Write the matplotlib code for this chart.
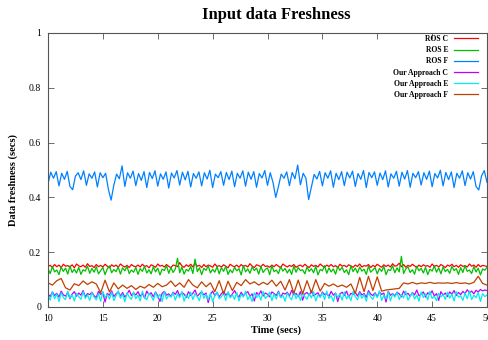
import numpy as np
import matplotlib
matplotlib.use("Agg")
import matplotlib.pyplot as plt

plt.rcParams["font.family"] = ["Liberation Serif", "DejaVu Serif"]

# values, in milliseconds
ros_c = [148,152,145,155,147,153,144,156,149,151,146,154,143,157,150,147,153,145,158,148,
         151,144,155,147,152,146,156,149,143,154,148,153,145,157,150,146,152,144,155,149,
         147,153,146,156,148,151,143,154,150,145,157,149,152,146,155,148,144,153,151,147,
         162,150,145,154,148,156,146,160,149,152,144,155,147,153,150,145,157,148,151,146,
         154,149,143,156,150,147,153,145,155,148,152,146,158,149,144,154,151,147,156,148,
         150,145,153,147,155,149,143,157,151,146,152,148,155,145,150,153,147,156,149,144,
         154,148,152,146,157,150,145,153,148,155,147,151,144,156,149,152,146,154,150,145,
         153,148,157,146,151,149,155,144,152,147,156,150,145,154,148,153,146,158,149,151,
         160,147,155,145,152,148,156,150,144,153,147,154,149,151,145,157,148,152,146,155,
         150,144,153,149,156,147,152,145,154,148,151,146,157,149,153,145,155,147,152,150,
         148]

ros_e = [140,122,148,128,135,118,146,130,142,120,150,126,138,124,145,119,136,131,149,123,
         141,127,147,121,133,144,118,139,150,125,137,129,146,120,143,132,148,122,135,127,
         145,119,140,130,149,124,136,121,147,128,142,117,138,133,151,123,144,126,139,178,
         125,146,120,137,131,148,122,175,129,143,118,141,134,150,124,138,127,147,121,144,
         130,149,119,136,125,145,132,140,117,151,128,139,123,146,133,142,120,148,126,137,
         143,118,150,129,135,122,147,131,141,124,138,119,149,127,144,133,136,121,146,130,
         140,125,148,117,137,132,151,123,143,128,139,120,147,134,145,126,136,118,150,129,
         142,124,146,131,138,119,149,127,135,144,121,141,130,148,118,137,133,150,125,143,
         128,185,122,139,147,126,136,120,149,132,141,124,145,118,138,131,150,127,143,121,
         146,129,137,123,148,133,140,119,144,126,151,130,135,122,147,128,142,117,139,134,
         145]

ros_f = [450,492,470,494, 442,488,466,495, 440,428,478,490, 465,497,444,486,
         470,493,438,490, 472,488,430,390, 445,485,468,515, 440,490,470,496,
         443,487,462,494, 436,491,469,497, 441,486,466,493, 434,489,471,498,
         445,492,464,495, 438,487,470,493, 442,490,467,499, 436,485,472,494,
         444,491,465,496, 439,488,470,497, 441,492,466,494, 437,487,471,498,
         444,490,455,400, 440,485,470,493, 443,491,468,518, 446,488,470,392,
         438,484,467,495, 442,490,470,497, 437,488,465,494, 443,492,471,496,
         440,487,466,498, 436,491,472,493, 444,489,465,497, 438,486,470,495,
         441,492,467,498, 437,488,472,494, 445,490,466,496, 439,487,471,499,
         442,491,465,493, 436,488,470,497, 443,490,467,494, 440,427,478,498,
         455]

our_c = [48,38,55,42,50,36,58,44,40,53,30,47,56,39,51,43,60,37,49,45,
         54,41,35,57,46,52,18,50,43,59,38,48,55,40,53,36,47,61,42,51,
         44,56,39,49,33,58,45,52,37,55,41,20,50,57,43,48,38,54,46,60,
         40,53,47,35,56,42,50,62,39,48,55,44,51,16,46,58,41,53,37,49,
         57,43,52,38,47,60,45,36,54,41,50,56,39,48,22,53,44,59,40,51,
         46,37,55,49,42,58,35,51,47,54,40,61,44,50,38,56,25,48,53,43,
         59,41,47,52,36,55,45,49,39,57,43,51,20,48,54,42,58,37,50,46,
         53,40,56,44,49,35,60,47,42,52,38,55,46,51,18,57,43,49,41,54,
         48,37,58,45,50,39,53,44,62,41,47,55,36,52,46,59,40,49,24,56,
         43,51,38,55,47,60,42,53,45,57,49,63,52,58,48,61,55,64,59,62,
         60]

our_e = [42,25,55,30,48,20,52,35,27,58,33,45,22,50,38,28,56,31,44,24,
         53,36,26,49,21,57,34,46,29,54,23,41,59,32,47,19,51,37,28,55,
         30,44,22,58,35,26,50,40,24,53,33,47,20,56,29,43,36,52,25,48,
         34,57,21,45,31,54,27,49,38,23,59,32,46,26,51,19,42,55,30,37,
         50,24,56,33,44,28,53,22,47,36,58,27,41,20,52,35,45,25,57,31,
         39,54,23,48,29,55,34,43,21,51,37,26,59,30,46,24,53,38,28,49,
         33,56,22,44,36,52,27,58,31,41,20,50,35,47,25,55,29,42,23,57,
         38,26,51,32,45,21,54,37,28,49,34,59,24,43,30,56,22,48,36,53,
         27,46,33,58,25,40,52,29,44,21,55,35,48,26,57,31,39,23,50,37,
         45,28,54,32,47,22,56,36,41,24,51,30,58,27,43,34,53,20,49,38,
         44]

our_f = [88,80,96,104,70,62,85,78,95,82,92,84,52,98,55,88,66,80,68,78,
         64,76,69,82,72,86,74,80,95,75,88,72,100,80,70,92,74,88,56,96,
         48,94,60,90,78,100,84,92,80,90,82,98,76,94,62,100,50,98,48,96,
         52,100,58,86,76,84,74,80,72,84,50,108,56,112,60,110,58,62,64,66,
         68,88,84,90,84,88,86,90,86,88,87,88,86,89,86,88,84,90,112,86,
         80]

series = [
    ("ROS C", ros_c, "#ff0000"),
    ("ROS E", ros_e, "#00c000"),
    ("ROS F", ros_f, "#0080ff"),
    ("Our Approach C", our_c, "#c000ff"),
    ("Our Approach E", our_e, "#00eeee"),
    ("Our Approach F", our_f, "#c04000"),
]

yticks = [0, 0.2, 0.4, 0.6, 0.8, 1]
ytick_labels = ["0", "0.2", "0.4", "0.6", "0.8", "1"]
xticks = [10, 15, 20, 25, 30, 35, 40, 45, 50]

fig = plt.figure(figsize=(4.88, 3.4), dpi=100)
ax = fig.add_axes([48 / 488, 1 - 307 / 340, 439 / 488, 274 / 340])

for name, vals, col in series:
    y = np.array(vals) / 1000.0
    # samples are evenly spaced between 10 and 50 s
    t = np.linspace(10, 50, len(y))
    ax.plot(t, y, color=col, lw=0.9, label=name)

ax.set_xlim(10, 50)
ax.set_ylim(0, 1)
ax.set_xticks(xticks)
ax.set_yticks(yticks, ytick_labels)
ax.tick_params(direction="in", top=True, right=True, length=4, width=0.6,
               color="#555555", labelsize=7, pad=5)
for s in ax.spines.values():
    s.set_color("#555555")
    s.set_linewidth(0.8)

leg = ax.legend(loc="upper right", bbox_to_anchor=(478 / 488, 1 - 35 / 340),
                bbox_transform=fig.transFigure, frameon=False, markerfirst=False,
                prop={"size": 5.5, "weight": "bold"}, handlelength=3.1,
                handletextpad=0.8, labelspacing=0.42, borderpad=0, borderaxespad=0)

fig.text(276 / 488, 1 - 15 / 340, "Input data Freshness", ha="center", va="center",
         fontsize=12, fontweight="bold")
fig.text(276 / 488, 1 - 330 / 340, "Time (secs)", ha="center", va="center",
         fontsize=7.5, fontweight="bold")
fig.text(13 / 488, 1 - 180 / 340, "Data freshness (secs)", ha="center", va="center",
         rotation=90, fontsize=7.5, fontweight="bold")

fig.savefig("out.png", dpi=100)
